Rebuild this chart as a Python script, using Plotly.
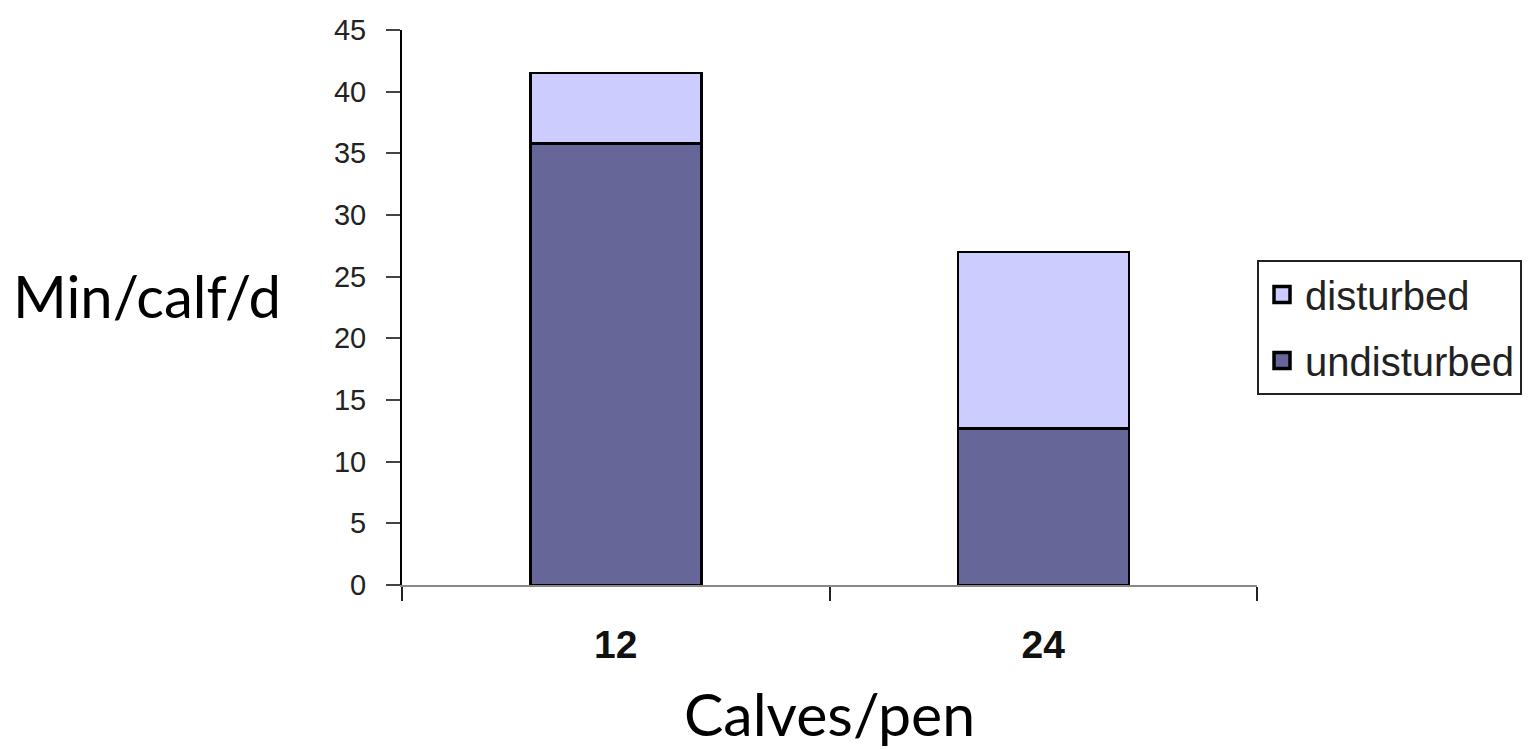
import plotly.graph_objects as go

# Feeding time per calf, split by whether the meal was disturbed
pen_sizes = ["12", "24"]
undisturbed = [35.8, 12.7]
disturbed = [5.7, 14.3]

series_names = ["disturbed", "undisturbed"]
series_colors = {"undisturbed": "#666699", "disturbed": "#CCCCFF"}

y_ticks = [0, 5, 10, 15, 20, 25, 30, 35, 40, 45]

fig = go.Figure()

fig.add_trace(go.Bar(
    x=pen_sizes, y=undisturbed, name="undisturbed",
    marker=dict(color=series_colors["undisturbed"], line=dict(color="#000000", width=2.5)),
    width=0.4, showlegend=False,
))
fig.add_trace(go.Bar(
    x=pen_sizes, y=disturbed, name="disturbed",
    marker=dict(color=series_colors["disturbed"], line=dict(color="#000000", width=2.5)),
    width=0.4, showlegend=False,
))

# legend entries as square swatches
for i, name in enumerate(series_names):
    fig.add_trace(go.Scatter(
        x=[None], y=[None], mode="markers", name=name,
        legendgroup=name, legendrank=i,
        marker=dict(symbol="square", size=16, color=series_colors[name],
                    line=dict(color="#000000", width=3.5)),
    ))

fig.update_layout(
    width=1528, height=749,
    margin=dict(l=402, r=271, t=30, b=164, autoexpand=False),
    barmode="stack",
    paper_bgcolor="white", plot_bgcolor="white",
    font=dict(family="Liberation Sans, Arial, sans-serif", color="#111111"),
    legend=dict(
        x=1.0, xanchor="left", y=0.5856, yanchor="top",
        bgcolor="white", bordercolor="#222222", borderwidth=2,
        font=dict(size=40, family="Liberation Sans, Arial, sans-serif", color="#222222"),
        traceorder="grouped", tracegroupgap=11, itemwidth=36,
    ),
    annotations=[
        dict(text="Min/calf/d", xref="paper", yref="paper", x=-0.2977, y=0.5225,
             xanchor="center", yanchor="middle", showarrow=False,
             font=dict(size=58, family="Lato, Open Sans, sans-serif", color="#000000")),
    ],
)

fig.update_xaxes(
    type="category", range=[-0.5, 1.5],
    tickson="boundaries", ticks="outside", ticklen=14, tickwidth=2, tickcolor="#222222",
    showline=True, linecolor="#888888", linewidth=2,
    showgrid=False, zeroline=False,
    tickfont=dict(size=39, family="Liberation Sans, Arial, sans-serif", color="#111111", weight="bold"),
    ticklabelstandoff=24,
    title=dict(text="Calves/pen", standoff=32,
               font=dict(size=59, family="Lato, Open Sans, sans-serif", color="#000000")),
)

fig.update_yaxes(
    range=[0, 45], tickvals=y_ticks,
    ticks="outside", ticklen=14, tickwidth=1.5, tickcolor="#444444",
    showline=True, linecolor="#000000", linewidth=2,
    showgrid=False, zeroline=False,
    tickfont=dict(size=29, family="Liberation Sans, Arial, sans-serif", color="#222222"),
    ticklabelstandoff=14,
)

fig.write_html("out.html")
